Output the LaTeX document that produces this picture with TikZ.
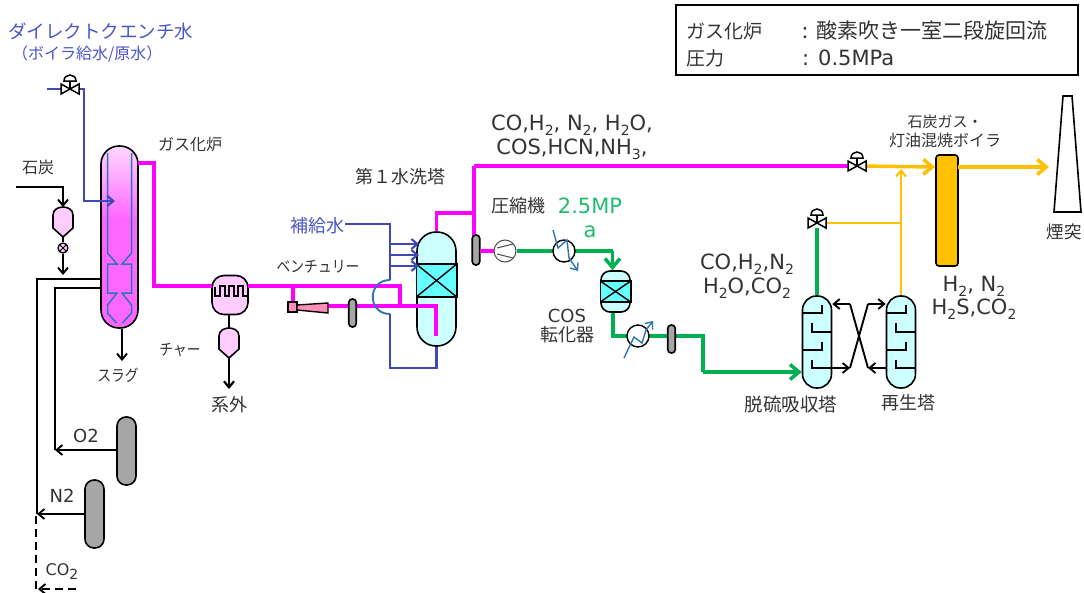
\documentclass[tikz,border=0pt]{standalone}
\usepackage{fontspec}
\setmainfont{DejaVu Sans}
\newfontfamily\jp{Noto Sans CJK JP}
\usepackage{tikz}
\usetikzlibrary{arrows.meta,calc}
\definecolor{gasmag}{HTML}{FF00FF}
\definecolor{furnmag}{HTML}{FF66FF}
\definecolor{furnpale}{HTML}{FFD9FF}
\definecolor{hoppink}{HTML}{FFCCFF}
\definecolor{watblue}{HTML}{3F48B8}
\definecolor{linblue}{HTML}{2E75B6}
\definecolor{titblue}{HTML}{4A55C8}
\definecolor{cleangreen}{HTML}{00B050}
\definecolor{labgreen}{HTML}{20BC70}
\definecolor{burnorange}{HTML}{FFC000}
\definecolor{palecyan}{HTML}{CCFFFF}
\definecolor{packcyan}{HTML}{66FFFF}
\definecolor{tankgray}{HTML}{A6A6A6}
\definecolor{venpink}{HTML}{FF8FB8}
\definecolor{txtgray}{HTML}{333333}
\pgfdeclareverticalshading{furnshade}{100bp}{color(0bp)=(furnmag); color(55bp)=(furnmag); color(75bp)=(furnpale); color(100bp)=(furnpale)}
\tikzset{
	jptext/.style={inner sep=0pt,text=txtgray,font=\jp\fontsize{#1}{#1}\selectfont},
	gastext/.style={inner sep=0pt,text=txtgray,align=center,font=\fontsize{21}{#1}\selectfont},
	bluetext/.style={inner sep=0pt,text=titblue,font=\jp\fontsize{#1}{#1}\selectfont},
	vessel/.style={draw=black,line width=1.6pt,inner sep=0pt,rectangle},
	tank/.style={vessel,fill=tankgray,rounded corners=9pt,minimum width=19pt,minimum height=68pt},
	septr/.style={vessel,fill=tankgray,rounded corners=3.5pt,minimum width=7.5pt,minimum height=28pt},
	tower/.style={vessel,fill=palecyan,rounded corners=14pt,minimum width=29pt,minimum height=92pt},
	barb/.style={-{Straight Barb[length=6pt,width=10pt]}},
	bigbarb/.style={-{Straight Barb[length=9pt,width=15pt]}},
	blackline/.style={black,line width=1.9pt},
	waterline/.style={watblue,line width=2.1pt},
	hotline/.style={gasmag,line width=3.5pt},
	cleanline/.style={cleangreen,line width=3.5pt},
	burnline/.style={burnorange,line width=3.5pt},
	thinburn/.style={burnorange,line width=2pt},
	innerline/.style={linblue,line width=1.5pt}
}
\newcommand{\gsub}[1]{\raisebox{-0.45ex}{\fontsize{14}{14}\selectfont #1}}
\newcommand{\narrowtext}[1]{\scalebox{.86}[1]{#1}}
\newcommand{\valve}[1]{
	\fill [white] ($(#1)+(-9,-5)$) rectangle ($(#1)+(9,5)$);
	\draw [black,line width=1.5pt] ($(#1)+(-9,-5)$)--($(#1)+(9,5)$)--($(#1)+(9,-5)$)--($(#1)+(-9,5)$)--cycle;
	\draw [black,line width=1.5pt] (#1)--($(#1)+(0,-8)$);
	\filldraw [black,fill=white,line width=1.5pt] ($(#1)+(-6,-8)$) .. controls ($(#1)+(-6,-16)$) and ($(#1)+(6,-16)$) .. ($(#1)+(6,-8)$)--cycle;
}
\newcommand{\hopper}[3]{
	\filldraw [black,fill=hoppink,line width=1.6pt] (#2-10,#3+21)--(#2-10,#3+8) .. controls (#2-10,#3+2) and (#2-4,#3) .. (#2,#3) .. controls (#2+4,#3) and (#2+10,#3+2) .. (#2+10,#3+8)--(#2+10,#3+21)--(#2,#3+30)--cycle;
	\coordinate (#1T) at (#2,#3);
	\coordinate (#1B) at (#2,#3+30);
}
\newcommand{\packing}[3]{
	\filldraw [black,fill=packcyan,line width=1.4pt] (#1.west |- 0,#2) rectangle (#1.east |- 0,#3);
	\draw [black,line width=1.4pt] (#1.west |- 0,#2)--(#1.east |- 0,#3);
	\draw [black,line width=1.4pt] (#1.west |- 0,#3)--(#1.east |- 0,#2);
}
\newcommand{\trays}[2]{
	\draw [black,line width=1.3pt] (#2,313)--(#2+19,313)--(#2+19,305);
	\draw [black,line width=1.3pt] (#2+28,332)--(#2+9,332)--(#2+9,323);
	\draw [black,line width=1.3pt] (#2,350)--(#2+19,350)--(#2+19,342);
	\draw [black,line width=1.3pt] (#2+28,368)--(#2+9,368)--(#2+9,360);
}

\begin{document}
\begin{tikzpicture}[x=1pt,y=-1pt]
\useasboundingbox (0,0) rectangle (1084,592);

\node [bluetext=18.5,anchor=west] (quench) at (8,31) {ダイレクトクエンチ水};
\node [bluetext=16,anchor=west] (quenchsub) at (12,54) {（ボイラ給水/原水）};

\node [draw=black,line width=1.3pt,minimum width=402pt,minimum height=70pt,inner sep=0pt] (spec) at (877,40) {};
\node [jptext=19,anchor=west] (specA) at (686,31) {ガス化炉};
\node [jptext=21,anchor=west] (specB) at (802,31) {:\hspace{8pt}酸素吹き一室二段旋回流};
\node [jptext=19,anchor=west] (specC) at (686,58) {圧力};
\node [inner sep=0pt,text=txtgray,anchor=west,font=\fontsize{21}{21}\selectfont] (specD) at (802,58) {: 0.5MPa};

\coordinate (VA)	at (70,89);
\coordinate (VB)	at (857,166);
\coordinate (VC)	at (817,223);
\coordinate (HXA)	at (564,251);
\coordinate (HXB)	at (638,336);

\node [vessel,rounded corners=18pt,shading=furnshade,minimum width=37pt,minimum height=182pt] (furnace) at (119.5,237) {};
\foreach \s in {1,-1}{
	\draw [innerline] (119.5-12*\s,153)--(119.5-12*\s,253)--(119.5-2.5*\s,264)--(119.5-12*\s,264)--(119.5-12*\s,293)--(119.5-2.5*\s,293)--(119.5-12*\s,305)--(119.5-12*\s,313)--(119.5-3*\s,323);
}
\node [vessel,fill=hoppink,rounded corners=12pt,minimum width=36pt,minimum height=39pt] (cyclone) at (230,295) {};
\draw [black,line width=1.6pt] (215,287)--(215,296)--(220,296)--(220,286)--(225,286)--(225,296)--(229,296)--(229,286)--(234,286)--(234,296)--(238,296)--(238,286)--(243,286)--(243,296)--(248,296)--(248,287);
\hopper{coal}{63}{207}
\hopper{char}{229}{328}
\node [draw=black,line width=1.3pt,fill=hoppink,circle,minimum size=10pt,inner sep=0pt] (coalvalve) at (63,248) {};
\draw [black,line width=1pt] (60,245)--(66,251);
\draw [black,line width=1pt] (60,251)--(66,245);
\node [tank] (Otank) at (126.5,451) {};
\node [tank] (Ntank) at (94.5,514) {};

\node [vessel,fill=palecyan,rounded corners=19pt,minimum width=39pt,minimum height=114pt] (scrubber) at (436.5,289) {};
\packing{scrubber}{264}{297}
\node [vessel,fill=palecyan,rounded corners=9pt,minimum width=29pt,minimum height=41pt] (reactor) at (615.5,291.5) {};
\packing{reactor}{281}{302}
\node [tower] (absorber) at (817,342) {};
\node [tower] (regen) at (901,342) {};
\trays{absorber}{803}
\trays{regen}{887}
\node [vessel,fill=burnorange,rounded corners=3pt,minimum width=22pt,minimum height=111pt] (boiler) at (947,210.5) {};
\draw [black,line width=1.6pt] (1063,96)--(1072,96)--(1081,212)--(1054,212)--cycle;

\node [circle,draw=black!70,fill=white,line width=1pt,minimum size=22pt,inner sep=0pt] (compressor) at (505,251) {};
\draw [black!70,line width=1pt] (497,248)--(513,244);
\draw [black!70,line width=1pt] (497,254)--(513,258);

\coordinate (CWa)	at (47,89);
\coordinate (CWb)	at (84,89);
\coordinate (CWc)	at (84,201);
\coordinate (CWd)	at (115,201);
\draw [waterline] (CWa)--(VA);
\draw [waterline,barb] (VA)--(CWb)--(CWc)--(CWd);

\coordinate (CLa)	at (16,187);
\coordinate (CLb)	at (63,187);
\draw [blackline,barb] (CLa)--(CLb)--(coalT);
\draw [blackline] (coalB)--(coalvalve);
\coordinate (CLc)	at (63,275);
\draw [blackline,barb] (coalvalve)--(CLc);

\coordinate (OJa)	at (55,450);
\coordinate (OJb)	at (55,288);
\coordinate (OJc)	at (101,288);
\coordinate (NJa)	at (37,514);
\coordinate (NJb)	at (37,279);
\coordinate (NJc)	at (101,279);
\draw [blackline] (OJa)--(OJb)--(OJc);
\draw [blackline] (NJa)--(NJb)--(NJc);
\draw [blackline,barb] (Otank.west |- OJa)--(OJa);
\draw [blackline,barb] (Ntank.west |- NJa)--(NJa);
\coordinate (CDa)	at (36,516);
\coordinate (CDb)	at (36,592);
\coordinate (CDc)	at (76,589);
\coordinate (CDd)	at (38,589);
\draw [blackline,dash pattern=on 8pt off 5pt] (CDa)--(CDb);
\draw [blackline,dash pattern=on 8pt off 5pt,barb] (CDc)--(CDd);

\coordinate (SLa)	at (122,361);
\draw [blackline,barb] (furnace.south -| SLa)--(SLa);
\draw [blackline] (cyclone.south -| charT)--(charT);
\coordinate (CHa)	at (229,389);
\draw [blackline,line width=2.2pt,barb] (charB)--(CHa);

\coordinate (HGa)	at (138,163);
\coordinate (HGb)	at (154,163);
\coordinate (HGc)	at (154,286);
\coordinate (HGd)	at (212,286);
\draw [hotline] (HGa)--(HGb)--(HGc)--(HGd);
\coordinate (HGe)	at (248,286);
\coordinate (HGf)	at (400,286);
\coordinate (HGg)	at (400,306);
\draw [hotline] (HGe)--(HGf)--(HGg);
\coordinate (VNa)	at (293,286);
\coordinate (VNb)	at (293,303);
\draw [hotline] (VNa)--(VNb);
\coordinate (VNc)	at (328,306);
\coordinate (VNd)	at (436,306);
\coordinate (VNe)	at (436,336);
\draw [hotline] (VNc)--(VNd)--(VNe);

\filldraw [black,fill=venpink,line width=1.4pt] (288,302) rectangle (297,312);
\filldraw [black,fill=venpink,line width=1.4pt] (297,305)--(328,303)--(328,313)--(297,310)--cycle;
\node [septr] (sepA) at (352.5,313) {};

\coordinate (TOa)	at (436.5,213);
\coordinate (TOb)	at (474,213);
\coordinate (TOc)	at (474,166);
\coordinate (TOd)	at (474,236);
\draw [hotline] (scrubber.north)--(TOa)--(TOb);
\draw [hotline] (TOc)--(TOd);
\draw [hotline] (TOc)--(VB);
\node [septr,minimum height=30pt] (sepB) at (476,250) {};
\coordinate (TOe)	at (480,251);
\draw [hotline] (TOe)--(compressor.west);

\node [bluetext=18,anchor=east] (makeup) at (345,226) {補給水};
\coordinate (MUa)	at (390,224);
\coordinate (MUb)	at (390,280);
\coordinate (MUc)	at (390,314);
\coordinate (MUd)	at (390,368);
\coordinate (MUe)	at (436.5,368);
\draw [waterline] (makeup.east |- MUa)--(MUa)--(MUb);
\foreach \yy in {244,255,266}{
	\draw [waterline,barb] (390,\yy)--(419,\yy);
}
\draw [linblue,line width=1.9pt] (MUb) .. controls (367,280) and (367,314) .. (MUc);
\draw [waterline] (MUc)--(MUd)--(MUe)--(scrubber.south);

\coordinate (GRa)	at (612.5,251);
\draw [cleanline] (compressor.east)--(GRa);
\draw [cleanline,bigbarb] (GRa)--(reactor.north -| GRa);
\coordinate (GRb)	at (613,336);
\coordinate (GRc)	at (703,336);
\coordinate (GRd)	at (703,372);
\draw [cleanline] (reactor.south -| GRb)--(GRb)--(GRc)--(GRd);
\draw [cleanline,bigbarb] (GRd)--(absorber.west |- GRd);
\node [septr] (sepC) at (671.5,339) {};
\foreach \hx/\aa/\bb/\cc/\dd/\ee in {HXA/{553,230}/{558,248}/{567,240}/{569,258}/{578,271},HXB/{624,358}/{634,337}/{642,343}/{646,330}/{653,321}}{
	\filldraw [black,fill=white,line width=1.4pt] (\hx) circle (11pt);
	\draw [linblue,line width=1.4pt,barb] (\aa)--(\bb)--(\cc)--(\dd)--(\ee);
}

\coordinate (ABa)	at (850,368);
\coordinate (ABb)	at (868,304);
\coordinate (ABc)	at (850,304);
\coordinate (ABd)	at (868,368);
\draw [blackline,barb] (absorber.east |- ABa)--(ABa);
\draw [blackline] (ABa)--(ABb);
\draw [blackline,barb] (ABb)--(regen.west |- ABb);
\draw [blackline,barb] (regen.west |- ABd)--(ABd);
\draw [blackline] (ABd)--(ABc);
\draw [blackline,barb] (ABc)--(absorber.east |- ABc);

\draw [cleanline] (absorber.north)--(VC);
\coordinate (BRa)	at (901,223);
\coordinate (BRb)	at (901,169);
\draw [thinburn] (VC)--(BRa);
\draw [thinburn,barb] (regen.north)--(BRb);
\coordinate (BRc)	at (935,167);
\draw [burnline,bigbarb] (VB)--(BRc);
\coordinate (BRd)	at (958,167);
\coordinate (BRe)	at (1049,167);
\draw [burnline,bigbarb] (BRd)--(BRe);

\valve{VA}
\valve{VB}
\valve{VC}

\node [jptext=16] (furnacelab) at (190,145) {ガス化炉};
\node [jptext=16] (coallab) at (38,167) {石炭};
\node [jptext=16] (slaglab) at (118,375) {\narrowtext{スラグ}};
\node [jptext=16] (charlab) at (180,350) {\narrowtext{チャー}};
\node [jptext=18] (outlab) at (229,405) {系外};
\node [jptext=16] (ventlab) at (318,267) {\narrowtext{ベンチュリー}};
\node [jptext=18] (scrublab) at (400,177) {第１水洗塔};
\node [jptext=18] (complab) at (518,206) {圧縮機};
\node [inner sep=0pt,text=labgreen,align=center,font=\fontsize{21}{24}\selectfont] (preslab) at (590,218) {2.5MP\\a};
\node [inner sep=0pt,text=txtgray,font=\fontsize{18}{18}\selectfont] (coslab) at (567,316) {COS};
\node [jptext=18] (conlab) at (567,335) {転化器};
\node [gastext=24] (gaslabA) at (572,137) {CO,H\gsub{2}, N\gsub{2}, H\gsub{2}O,\\COS,HCN,NH\gsub{3},};
\node [gastext=24] (gaslabB) at (747,276) {CO,H\gsub{2},N\gsub{2}\\H\gsub{2}O,CO\gsub{2}};
\node [gastext=23] (gaslabC) at (974,298) {H\gsub{2}, N\gsub{2}\\H\gsub{2}S,CO\gsub{2}};
\node [jptext=18.5] (abslab) at (791,404) {脱硫吸収塔};
\node [jptext=18] (reglab) at (908,403) {再生塔};
\node [jptext=15] (boillabA) at (945,122) {石炭ガス・};
\node [jptext=16] (boillabB) at (945,140) {灯油混焼ボイラ};
\node [jptext=17.5] (stacklab) at (1064,232) {煙突};
\node [inner sep=0pt,text=txtgray,font=\fontsize{18}{18}\selectfont] (Olab) at (86,436) {O2};
\node [inner sep=0pt,text=txtgray,font=\fontsize{18}{18}\selectfont] (Nlab) at (62,496) {N2};
\node [inner sep=0pt,text=txtgray,font=\fontsize{16}{16}\selectfont] (Clab) at (62,572) {CO\gsub{2}};
\end{tikzpicture}
\end{document}
